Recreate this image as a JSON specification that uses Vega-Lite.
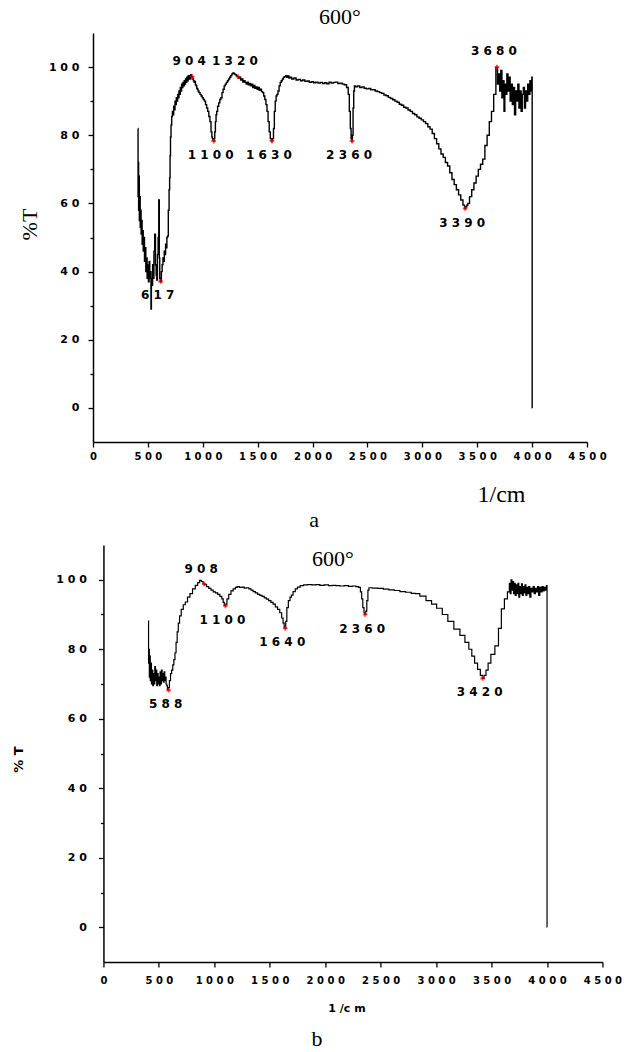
{
"$schema": "https://vega.github.io/schema/vega-lite/v6.json",
"background": "white",
"padding": {"left": 12, "top": 6, "right": 0, "bottom": 0},
"center": true,
"spacing": 14,
"config": {
  "view": {"stroke": null},
  "axis": {"grid": false, "domainColor": "black", "domainWidth": 1.5, "tickColor": "black", "tickWidth": 1.3, "labelColor": "black", "labelFont": "DejaVu Sans", "labelFontWeight": "bold", "labelFontSize": 10, "labelFlush": false, "labelOverlap": false, "titleColor": "black"},
  "title": {"color": "black"}
},
"datasets": {
  "specA": [
    {"v":410,"t":82},{"v":411,"t":62},{"v":414,"t":72},{"v":417,"t":58},{"v":420,"t":68},{"v":424,"t":55},{"v":428,"t":62},{"v":432,"t":53},{"v":436,"t":58},{"v":440,"t":51},{"v":445,"t":55},{"v":450,"t":48},{"v":455,"t":52},{"v":460,"t":46},{"v":466,"t":50},{"v":472,"t":43},{"v":478,"t":47},{"v":484,"t":40},{"v":490,"t":44},{"v":496,"t":38},{"v":502,"t":42},{"v":508,"t":37},{"v":514,"t":43},{"v":520,"t":38},{"v":526,"t":40},{"v":530,"t":29},{"v":534,"t":38},{"v":540,"t":36},{"v":546,"t":42},{"v":552,"t":38},{"v":558,"t":46},{"v":566,"t":51},{"v":572,"t":42},{"v":578,"t":39},{"v":584,"t":37.5},{"v":590,"t":45},{"v":596,"t":50},{"v":602,"t":61},{"v":606,"t":44},{"v":610,"t":38},{"v":616,"t":37},{"v":620,"t":37.1},{"v":626,"t":40},{"v":634,"t":42},{"v":640,"t":44},{"v":646,"t":43},{"v":652,"t":46},{"v":658,"t":45},{"v":664,"t":48},{"v":670,"t":47},{"v":676,"t":50},{"v":682,"t":50.4},{"v":690,"t":58},{"v":696,"t":64},{"v":700,"t":67.5},{"v":704,"t":74},{"v":708,"t":79.5},{"v":714,"t":83},{"v":720,"t":85.5},{"v":726,"t":87},{"v":732,"t":86},{"v":738,"t":88.5},{"v":744,"t":87.5},{"v":750,"t":90},{"v":756,"t":89},{"v":762,"t":91},{"v":768,"t":90},{"v":774,"t":92},{"v":780,"t":91},{"v":786,"t":93},{"v":792,"t":92},{"v":798,"t":94},{"v":804,"t":93},{"v":810,"t":95},{"v":816,"t":94},{"v":822,"t":95.5},{"v":828,"t":94.5},{"v":834,"t":96},{"v":840,"t":95},{"v":846,"t":96.5},{"v":852,"t":95.5},{"v":858,"t":97},{"v":864,"t":96},{"v":870,"t":97.5},{"v":876,"t":96.5},{"v":882,"t":97.5},{"v":888,"t":96.5},{"v":894,"t":97.8},{"v":900,"t":97},{"v":906,"t":97.2},{"v":912,"t":96.5},{"v":918,"t":96},{"v":924,"t":95.5},{"v":930,"t":95.8},{"v":936,"t":94.8},{"v":942,"t":94.5},{"v":948,"t":93.8},{"v":954,"t":93.5},{"v":960,"t":93},{"v":970,"t":92.5},{"v":980,"t":92},{"v":990,"t":91.5},{"v":1000,"t":91},{"v":1010,"t":90.5},{"v":1020,"t":90},{"v":1030,"t":89},{"v":1040,"t":88},{"v":1050,"t":87},{"v":1060,"t":85.5},{"v":1070,"t":84},{"v":1080,"t":81},{"v":1086,"t":79.5},{"v":1090,"t":79},{"v":1096,"t":78.5},{"v":1100,"t":78.3},{"v":1106,"t":79},{"v":1112,"t":81},{"v":1118,"t":84},{"v":1124,"t":86},{"v":1130,"t":87},{"v":1140,"t":88.5},{"v":1150,"t":89.5},{"v":1160,"t":90.5},{"v":1170,"t":91},{"v":1180,"t":92.5},{"v":1190,"t":93.5},{"v":1200,"t":94.5},{"v":1210,"t":95},{"v":1220,"t":95.5},{"v":1230,"t":96},{"v":1240,"t":96.5},{"v":1250,"t":97},{"v":1260,"t":97.5},{"v":1270,"t":98},{"v":1280,"t":98.3},{"v":1290,"t":98},{"v":1300,"t":97.8},{"v":1310,"t":97.5},{"v":1320,"t":97.2},{"v":1330,"t":96.8},{"v":1340,"t":97},{"v":1350,"t":96.2},{"v":1360,"t":96.5},{"v":1370,"t":95.6},{"v":1380,"t":96},{"v":1390,"t":95.5},{"v":1400,"t":95},{"v":1410,"t":95.6},{"v":1420,"t":94.8},{"v":1430,"t":95.2},{"v":1440,"t":94.5},{"v":1450,"t":95},{"v":1460,"t":94},{"v":1470,"t":94.6},{"v":1480,"t":93.8},{"v":1490,"t":94.2},{"v":1500,"t":93.5},{"v":1510,"t":94},{"v":1520,"t":93.2},{"v":1530,"t":93.5},{"v":1540,"t":92.8},{"v":1550,"t":92.5},{"v":1560,"t":91.5},{"v":1570,"t":90.5},{"v":1580,"t":89},{"v":1590,"t":87},{"v":1600,"t":84},{"v":1610,"t":81},{"v":1620,"t":79},{"v":1630,"t":78.3},{"v":1640,"t":79},{"v":1648,"t":82},{"v":1656,"t":87},{"v":1664,"t":90},{"v":1672,"t":91.5},{"v":1680,"t":92},{"v":1690,"t":93},{"v":1700,"t":94.5},{"v":1710,"t":95.5},{"v":1720,"t":96},{"v":1730,"t":96.5},{"v":1740,"t":97},{"v":1750,"t":97.2},{"v":1760,"t":97.5},{"v":1770,"t":97},{"v":1780,"t":97.4},{"v":1790,"t":96.8},{"v":1800,"t":97},{"v":1820,"t":96.5},{"v":1840,"t":96.8},{"v":1860,"t":96.2},{"v":1880,"t":96.4},{"v":1900,"t":96},{"v":1920,"t":96.2},{"v":1940,"t":95.8},{"v":1960,"t":95.9},{"v":1980,"t":95.5},{"v":2000,"t":95.7},{"v":2020,"t":95.4},{"v":2040,"t":95.6},{"v":2060,"t":95.3},{"v":2080,"t":95.5},{"v":2100,"t":95.2},{"v":2120,"t":95.4},{"v":2140,"t":95.1},{"v":2160,"t":95.6},{"v":2180,"t":95.3},{"v":2200,"t":95.5},{"v":2220,"t":95.6},{"v":2240,"t":95.2},{"v":2260,"t":95.3},{"v":2280,"t":95},{"v":2300,"t":94.8},{"v":2320,"t":94},{"v":2330,"t":92},{"v":2340,"t":87},{"v":2348,"t":82},{"v":2354,"t":79},{"v":2360,"t":78.3},{"v":2366,"t":80},{"v":2372,"t":88},{"v":2378,"t":93},{"v":2385,"t":94.5},{"v":2400,"t":94.2},{"v":2420,"t":94.5},{"v":2440,"t":94},{"v":2460,"t":94.2},{"v":2480,"t":93.8},{"v":2500,"t":93.6},{"v":2520,"t":93.7},{"v":2540,"t":93.3},{"v":2560,"t":93.4},{"v":2580,"t":93},{"v":2600,"t":92.8},{"v":2620,"t":92.5},{"v":2640,"t":92.3},{"v":2660,"t":91.8},{"v":2680,"t":91.6},{"v":2700,"t":91.1},{"v":2720,"t":90.8},{"v":2740,"t":90.4},{"v":2760,"t":90},{"v":2780,"t":89.7},{"v":2800,"t":89.1},{"v":2820,"t":88.8},{"v":2840,"t":88.2},{"v":2860,"t":88},{"v":2880,"t":87.4},{"v":2900,"t":87},{"v":2920,"t":86.4},{"v":2940,"t":86},{"v":2960,"t":85.4},{"v":2980,"t":85},{"v":3000,"t":84.5},{"v":3020,"t":84},{"v":3040,"t":83.4},{"v":3060,"t":82.5},{"v":3080,"t":81.8},{"v":3100,"t":80.5},{"v":3120,"t":79},{"v":3140,"t":77.5},{"v":3160,"t":76},{"v":3180,"t":74.5},{"v":3200,"t":73.5},{"v":3220,"t":72},{"v":3240,"t":71},{"v":3260,"t":69},{"v":3280,"t":67},{"v":3300,"t":65.5},{"v":3320,"t":64},{"v":3340,"t":62.5},{"v":3360,"t":61},{"v":3380,"t":59.5},{"v":3390,"t":58.5},{"v":3400,"t":59},{"v":3410,"t":59.5},{"v":3420,"t":60},{"v":3440,"t":62},{"v":3460,"t":64},{"v":3480,"t":66},{"v":3500,"t":68},{"v":3520,"t":70},{"v":3540,"t":71.5},{"v":3560,"t":73},{"v":3580,"t":77},{"v":3600,"t":80},{"v":3620,"t":84},{"v":3640,"t":87},{"v":3660,"t":92},{"v":3680,"t":100},{"v":3690,"t":95},{"v":3700,"t":98},{"v":3710,"t":93},{"v":3720,"t":99},{"v":3730,"t":91},{"v":3740,"t":96},{"v":3748,"t":87},{"v":3755,"t":95},{"v":3765,"t":92},{"v":3775,"t":98},{"v":3785,"t":93},{"v":3795,"t":97},{"v":3805,"t":90},{"v":3815,"t":95},{"v":3825,"t":89},{"v":3835,"t":94},{"v":3845,"t":86},{"v":3855,"t":93},{"v":3865,"t":90},{"v":3875,"t":95},{"v":3885,"t":88},{"v":3895,"t":93},{"v":3905,"t":87},{"v":3915,"t":92},{"v":3925,"t":94},{"v":3935,"t":88},{"v":3945,"t":93},{"v":3955,"t":90},{"v":3965,"t":95},{"v":3975,"t":92},{"v":3985,"t":96},{"v":3995,"t":93},{"v":4000,"t":97},{"v":4001,"t":0}
  ],
  "peaksA": [
    {"v":617,"t":37.1,"label":"617","kind":"min"},
    {"v":904,"t":97.2,"label":"904","kind":"max"},
    {"v":1100,"t":78.3,"label":"1100","kind":"min"},
    {"v":1320,"t":97.2,"label":"1320","kind":"max"},
    {"v":1630,"t":78.3,"label":"1630","kind":"min"},
    {"v":2360,"t":78.3,"label":"2360","kind":"min"},
    {"v":3390,"t":58.5,"label":"3390","kind":"min"},
    {"v":3680,"t":100,"label":"3680","kind":"max"}
  ],
  "specB": [
    {"v":406,"t":88.2},{"v":408,"t":76},{"v":412,"t":80},{"v":416,"t":72},{"v":420,"t":78},{"v":425,"t":71},{"v":430,"t":76},{"v":436,"t":70},{"v":442,"t":74},{"v":448,"t":69.5},{"v":454,"t":73},{"v":460,"t":70},{"v":466,"t":75},{"v":472,"t":71},{"v":478,"t":74},{"v":484,"t":69.5},{"v":490,"t":73},{"v":496,"t":70},{"v":502,"t":72},{"v":508,"t":69.5},{"v":514,"t":73.5},{"v":520,"t":70},{"v":526,"t":74},{"v":532,"t":71},{"v":538,"t":73},{"v":544,"t":70.5},{"v":550,"t":73.5},{"v":556,"t":71},{"v":562,"t":72},{"v":568,"t":70},{"v":574,"t":69.5},{"v":580,"t":68.5},{"v":585,"t":68.2},{"v":590,"t":69},{"v":600,"t":71},{"v":610,"t":73},{"v":620,"t":74},{"v":630,"t":75.5},{"v":640,"t":77},{"v":650,"t":79},{"v":660,"t":82},{"v":670,"t":85},{"v":680,"t":87.5},{"v":693,"t":89.6},{"v":710,"t":91.5},{"v":730,"t":92.8},{"v":747,"t":93.6},{"v":770,"t":95},{"v":790,"t":96},{"v":817,"t":97.4},{"v":840,"t":98.4},{"v":860,"t":99.2},{"v":875,"t":99.8},{"v":890,"t":99.5},{"v":908,"t":98.8},{"v":920,"t":98.6},{"v":940,"t":98},{"v":960,"t":97.5},{"v":980,"t":97},{"v":1000,"t":96.5},{"v":1020,"t":96.2},{"v":1040,"t":95.8},{"v":1060,"t":95.2},{"v":1075,"t":94.5},{"v":1085,"t":93.5},{"v":1095,"t":92.6},{"v":1100,"t":92.5},{"v":1108,"t":93},{"v":1120,"t":94.5},{"v":1140,"t":95.8},{"v":1160,"t":96.8},{"v":1180,"t":97.4},{"v":1200,"t":97.8},{"v":1213,"t":98},{"v":1240,"t":97.8},{"v":1260,"t":97.9},{"v":1280,"t":97.6},{"v":1300,"t":97.7},{"v":1322,"t":97.4},{"v":1340,"t":97},{"v":1360,"t":96.6},{"v":1380,"t":96.2},{"v":1400,"t":95.8},{"v":1420,"t":95.5},{"v":1440,"t":95.2},{"v":1460,"t":94.8},{"v":1480,"t":94.4},{"v":1500,"t":94},{"v":1520,"t":93.5},{"v":1540,"t":93},{"v":1560,"t":92.2},{"v":1580,"t":91.5},{"v":1600,"t":90.5},{"v":1615,"t":89},{"v":1625,"t":87.5},{"v":1635,"t":86.3},{"v":1640,"t":86},{"v":1648,"t":88},{"v":1660,"t":92},{"v":1675,"t":94},{"v":1690,"t":95},{"v":1700,"t":95.6},{"v":1720,"t":96.6},{"v":1740,"t":97.4},{"v":1760,"t":97.9},{"v":1789,"t":98.3},{"v":1820,"t":98.5},{"v":1860,"t":98.6},{"v":1900,"t":98.5},{"v":1933,"t":98.6},{"v":1970,"t":98.4},{"v":2010,"t":98.5},{"v":2050,"t":98.3},{"v":2080,"t":98.4},{"v":2112,"t":98.3},{"v":2150,"t":98.2},{"v":2190,"t":98.3},{"v":2230,"t":98.1},{"v":2260,"t":98.2},{"v":2292,"t":98},{"v":2310,"t":97.8},{"v":2325,"t":96.5},{"v":2333,"t":94.5},{"v":2345,"t":92},{"v":2355,"t":90.5},{"v":2362,"t":90},{"v":2370,"t":91},{"v":2380,"t":94},{"v":2390,"t":97},{"v":2399,"t":97.7},{"v":2450,"t":97.6},{"v":2500,"t":97.5},{"v":2550,"t":97.3},{"v":2600,"t":97.1},{"v":2647,"t":96.9},{"v":2700,"t":96.6},{"v":2750,"t":96.4},{"v":2800,"t":96.1},{"v":2827,"t":96},{"v":2880,"t":95.3},{"v":2938,"t":94},{"v":2980,"t":93},{"v":3030,"t":91.8},{"v":3082,"t":90},{"v":3130,"t":88},{"v":3190,"t":85.8},{"v":3240,"t":84},{"v":3280,"t":82},{"v":3310,"t":80},{"v":3334,"t":78},{"v":3360,"t":76},{"v":3388,"t":74.2},{"v":3410,"t":72.5},{"v":3424,"t":71.6},{"v":3440,"t":72.5},{"v":3460,"t":74},{"v":3478,"t":76},{"v":3510,"t":78.5},{"v":3550,"t":81},{"v":3575,"t":86},{"v":3602,"t":91.6},{"v":3630,"t":94.5},{"v":3656,"t":96.5},{"v":3665,"t":99},{"v":3672,"t":96},{"v":3680,"t":100},{"v":3688,"t":97},{"v":3695,"t":99.5},{"v":3702,"t":96},{"v":3710,"t":99},{"v":3718,"t":95.5},{"v":3726,"t":98.5},{"v":3734,"t":96},{"v":3742,"t":99},{"v":3750,"t":95},{"v":3758,"t":98},{"v":3766,"t":96},{"v":3774,"t":98.8},{"v":3782,"t":95.5},{"v":3790,"t":98},{"v":3798,"t":96.2},{"v":3806,"t":98.5},{"v":3814,"t":95.5},{"v":3822,"t":97.8},{"v":3830,"t":96},{"v":3840,"t":98},{"v":3850,"t":95},{"v":3860,"t":97.5},{"v":3870,"t":96.5},{"v":3880,"t":98},{"v":3890,"t":96},{"v":3900,"t":97.5},{"v":3910,"t":96.5},{"v":3920,"t":98},{"v":3930,"t":95.5},{"v":3940,"t":97.8},{"v":3950,"t":96.5},{"v":3960,"t":98},{"v":3970,"t":96.8},{"v":3980,"t":97.8},{"v":3990,"t":97},{"v":4000,"t":98.3},{"v":4001,"t":0}
  ],
  "peaksB": [
    {"v":588,"t":68.2,"label":"588","kind":"min"},
    {"v":908,"t":98.8,"label":"908","kind":"max"},
    {"v":1100,"t":92.5,"label":"1100","kind":"min"},
    {"v":1640,"t":86,"label":"1640","kind":"min"},
    {"v":2360,"t":90,"label":"2360","kind":"min"},
    {"v":3420,"t":71.6,"label":"3420","kind":"min"}
  ],
  "none": []
},
"vconcat": [
  {
    "title": {"text": "a", "orient": "bottom", "anchor": "middle", "frame": "bounds", "font": "Liberation Serif", "fontSize": 22, "fontWeight": "normal", "offset": 4, "dx": -11},
    "spacing": 20,
    "hconcat": [
      {
        "width": 494, "height": 409,
        "title": {"text": "600°", "anchor": "middle", "font": "Liberation Serif", "fontSize": 22, "fontWeight": "normal", "offset": 4},
        "layer": [
          {
            "data": {"name": "specA"},
            "mark": {"type": "line", "color": "black", "strokeWidth": 1.4, "interpolate": "step"},
            "encoding": {
              "x": {"field": "v", "type": "quantitative", "scale": {"domain": [0, 4500], "nice": false},
                "axis": {"values": [0,250,500,750,1000,1250,1500,1750,2000,2250,2500,2750,3000,3250,3500,3750,4000,4250,4500],
                  "labelExpr": "datum.value % 500 == 0 ? join(split(format(datum.value, 'd'), ''), ' ') : ''",
                  "tickSize": {"condition": {"test": "datum.value % 500 == 0", "value": 5}, "value": 3},
                  "labelPadding": 4,
                  "title": "1/cm", "titleFont": "Liberation Serif", "titleFontSize": 24, "titleFontWeight": "normal",
                  "titleX": 408, "titleY": 52, "titleAlign": "center", "titleBaseline": "middle"}},
              "y": {"field": "t", "type": "quantitative", "scale": {"domain": [-10, 110], "nice": false},
                "axis": {"values": [0,10,20,30,40,50,60,70,80,90,100],
                  "labelExpr": "datum.value % 20 == 0 ? join(split(format(datum.value, 'd'), ''), ' ') : ''",
                  "labelFontSize": 11,
                  "tickSize": {"condition": {"test": "datum.value % 20 == 0", "value": 5}, "value": 3},
                  "labelPadding": 9,
                  "title": "%T", "titleFont": "Liberation Serif", "titleFontSize": 22, "titleFontWeight": "normal",
                  "titleX": -64, "titleY": 191, "titleAlign": "center", "titleBaseline": "middle", "titleAngle": 270}}
            }
          },
          {
            "data": {"name": "peaksA"},
            "mark": {"type": "point", "shape": "cross", "filled": true, "color": "#ff0000", "size": 22},
            "encoding": {"x": {"field": "v", "type": "quantitative"}, "y": {"field": "t", "type": "quantitative"}}
          },
          {
            "data": {"name": "peaksA"},
            "transform": [{"filter": "datum.kind == 'min'"}],
            "mark": {"type": "text", "font": "DejaVu Sans", "fontWeight": "bold", "fontSize": 12, "color": "black", "dy": 14, "dx": -3, "baseline": "middle", "text": {"expr": "join(split(datum.label, ''), ' ')"}},
            "encoding": {"x": {"field": "v", "type": "quantitative"}, "y": {"field": "t", "type": "quantitative"}}
          },
          {
            "data": {"name": "peaksA"},
            "transform": [{"filter": "datum.kind == 'max'"}],
            "mark": {"type": "text", "font": "DejaVu Sans", "fontWeight": "bold", "fontSize": 12, "color": "black", "dy": -16, "dx": -3, "baseline": "middle", "text": {"expr": "join(split(datum.label, ''), ' ')"}},
            "encoding": {"x": {"field": "v", "type": "quantitative"}, "y": {"field": "t", "type": "quantitative"}}
          }
        ]
      },
      {
        "width": 5, "height": 10,
        "data": {"name": "none"},
        "mark": {"type": "point", "opacity": 0}
      }
    ]
  },
  {
    "title": {"text": "b", "orient": "bottom", "anchor": "middle", "frame": "bounds", "font": "Liberation Serif", "fontSize": 22, "fontWeight": "normal", "offset": 16},
    "vconcat": [
      {
        "width": 499, "height": 417,
        "title": {"text": "600°", "anchor": "middle", "font": "Liberation Serif", "fontSize": 22, "fontWeight": "normal", "offset": -26, "dx": -20},
        "layer": [
          {
            "data": {"name": "specB"},
            "mark": {"type": "line", "color": "black", "strokeWidth": 1.2, "interpolate": "step"},
            "encoding": {
              "x": {"field": "v", "type": "quantitative", "scale": {"domain": [0, 4500], "nice": false},
                "axis": {"values": [0,250,500,750,1000,1250,1500,1750,2000,2250,2500,2750,3000,3250,3500,3750,4000,4250,4500],
                  "labelExpr": "datum.value % 500 == 0 ? join(split(format(datum.value, 'd'), ''), ' ') : ''",
                  "tickSize": {"condition": {"test": "datum.value % 500 == 0", "value": 5}, "value": 3},
                  "labelPadding": 8,
                  "title": "1 /c m", "titleFont": "DejaVu Sans", "titleFontSize": 11, "titleFontWeight": "bold",
                  "titleX": 243, "titleY": 46, "titleAlign": "center", "titleBaseline": "middle"}},
              "y": {"field": "t", "type": "quantitative", "scale": {"domain": [-10, 110], "nice": false},
                "axis": {"values": [0,10,20,30,40,50,60,70,80,90,100],
                  "labelExpr": "datum.value % 20 == 0 ? join(split(format(datum.value, 'd'), ''), ' ') : ''",
                  "labelFontSize": 11,
                  "tickSize": {"condition": {"test": "datum.value % 20 == 0", "value": 5}, "value": 3},
                  "labelPadding": 12,
                  "title": "% T", "titleFont": "DejaVu Sans", "titleFontSize": 13, "titleFontWeight": "bold",
                  "titleX": -85, "titleY": 214, "titleAlign": "center", "titleBaseline": "middle", "titleAngle": 270}}
            }
          },
          {
            "data": {"name": "peaksB"},
            "mark": {"type": "point", "shape": "cross", "filled": true, "color": "#ff0000", "size": 22},
            "encoding": {"x": {"field": "v", "type": "quantitative"}, "y": {"field": "t", "type": "quantitative"}}
          },
          {
            "data": {"name": "peaksB"},
            "transform": [{"filter": "datum.kind == 'min'"}],
            "mark": {"type": "text", "font": "DejaVu Sans", "fontWeight": "bold", "fontSize": 12, "color": "black", "dy": 14, "dx": -3, "baseline": "middle", "text": {"expr": "join(split(datum.label, ''), ' ')"}},
            "encoding": {"x": {"field": "v", "type": "quantitative"}, "y": {"field": "t", "type": "quantitative"}}
          },
          {
            "data": {"name": "peaksB"},
            "transform": [{"filter": "datum.kind == 'max'"}],
            "mark": {"type": "text", "font": "DejaVu Sans", "fontWeight": "bold", "fontSize": 12, "color": "black", "dy": -15, "dx": -3, "baseline": "middle", "text": {"expr": "join(split(datum.label, ''), ' ')"}},
            "encoding": {"x": {"field": "v", "type": "quantitative"}, "y": {"field": "t", "type": "quantitative"}}
          }
        ]
      }
    ]
  }
]
}
